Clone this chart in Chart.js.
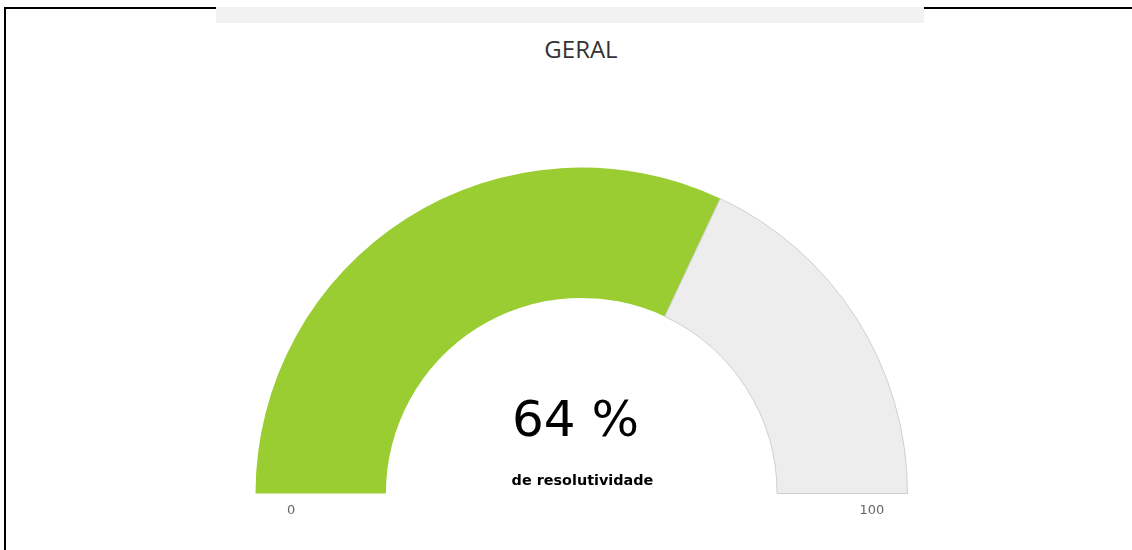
<!DOCTYPE html>
<html>
<head>
<meta charset="utf-8">
<script src="https://cdn.jsdelivr.net/npm/chart.js@4/dist/chart.umd.min.js"></script>
<style>
  html, body { margin: 0; padding: 0; background: #fff; }
  body { width: 1132px; height: 550px; position: relative; overflow: hidden; }
  #frame { position: absolute; left: 4px; top: 7px; right: -10px; bottom: -10px;
           border-left: 2px solid #000; border-top: 2px solid #000; }
  #topbar { position: absolute; left: 216px; top: 7px; width: 708px; height: 16px; background: #f2f2f2; }
  #title { position: absolute; left: 0; width: 1162px; top: 32px; text-align: center;
           font-family: "Open Sans", sans-serif; font-size: 24px; color: #333; }
  #gauge { position: absolute; left: 0; top: 0; }
</style>
</head>
<body>
<div id="frame"></div>
<div id="topbar"></div>
<div id="title">GERAL</div>
<canvas id="gauge" width="1132" height="550"></canvas>
<script>
const sliceLabels = ['Resolvido', 'Restante'];
const sliceValues = [64, 36];
const sliceColors = ['#9acd32', '#ededed'];
const gaugeTicks = ['0', '100'];
const valueText = '64 %';
const subText = 'de resolutividade';

// texts in the middle of the gauge and the min/max under the band
const gaugeText = {
    id: 'gaugeText',
    afterDraw(chart) {
        const arc = chart.getDatasetMeta(0).data[0];
        const cx = arc.x, cy = arc.y, R = arc.outerRadius;
        const ctx = chart.ctx;
        ctx.save();
        ctx.textAlign = 'center';
        ctx.textBaseline = 'middle';
        ctx.fillStyle = '#000';
        ctx.font = '50px "DejaVu Sans", Verdana, sans-serif';
        ctx.fillText(valueText, cx - 6, cy - 70);
        ctx.font = 'bold 14.4px "DejaVu Sans", Verdana, sans-serif';
        ctx.fillText(subText, cx + 1, cy - 12);
        ctx.fillStyle = '#666';
        ctx.font = '13px "DejaVu Sans", Verdana, sans-serif';
        ctx.fillText(gaugeTicks[0], cx - R * 0.891, cy + 17);
        ctx.fillText(gaugeTicks[1], cx + R * 0.891, cy + 17);
        ctx.restore();
    }
};

new Chart(document.getElementById('gauge').getContext('2d'), {
    type: 'doughnut',
    data: {
        labels: sliceLabels,
        datasets: [{
            data: sliceValues,
            backgroundColor: sliceColors,
            borderColor: ['#9acd32', '#cfcfcf'],
            borderWidth: [0, 1]
        }]
    },
    options: {
        responsive: false,
        animation: false,
        rotation: -90,
        circumference: 180,
        cutout: '60%',
        layout: { padding: { left: 255, right: 224, top: 167, bottom: 56 } },
        plugins: {
            legend: { display: false },
            tooltip: { enabled: false }
        }
    },
    plugins: [gaugeText]
});
</script>
</body>
</html>
